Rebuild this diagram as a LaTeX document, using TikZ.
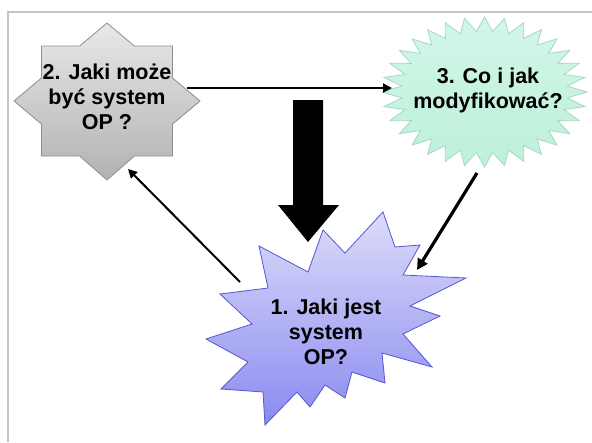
\documentclass[tikz,border=0pt]{standalone}
\usepackage{fontspec}
\setmainfont{Liberation Sans}
\usetikzlibrary{arrows.meta}
\definecolor{frameg}{HTML}{C4C4C4}
\definecolor{graytop}{HTML}{E8E8E8}
\definecolor{graybot}{HTML}{B2B2B2}
\definecolor{grayln}{HTML}{8E8E8E}
\definecolor{minttop}{HTML}{D2F6E8}
\definecolor{mintbot}{HTML}{BDF0DA}
\definecolor{mintln}{HTML}{A6D8C4}
\definecolor{bluetop}{HTML}{DCDCFA}
\definecolor{bluebot}{HTML}{8A8AF0}
\definecolor{blueln}{HTML}{5656D2}
\tikzset{
  lbl/.style={align=center, inner sep=0pt, font=\fontsize{21.5}{25}\selectfont\bfseries, text=black},
  conn/.style={draw=black, -{Triangle[length=9pt,width=9pt]}},
}
\begin{document}
\begin{tikzpicture}[x=1pt,y=-1pt]
\useasboundingbox (0,0) rectangle (592,442);
\fill[white] (0,0) rectangle (592,442);
% slide frame
\draw[frameg, line width=1.2pt] (8,442) -- (8,12) -- (592,12);
% star 2 (grey, 8 points)
\draw[grayln, line width=0.8pt, top color=graytop, bottom color=graybot]
  (107,23) -- (134.4,46) -- (172.5,46) -- (172.5,77.9) -- (200,101) -- (172.5,124.1)
  -- (172.5,156) -- (134.4,156) -- (107,180) -- (79.6,156) -- (41.5,156)
  -- (41.5,124.1) -- (14,101) -- (41.5,77.9) -- (41.5,46) -- (79.6,46) -- cycle;
% star 3 (mint, 32 points)
\draw[mintln, line width=0.8pt, top color=minttop, bottom color=mintbot]
  plot[samples at={0,...,63}]
  ({484.5+102.5*(1-0.19*mod(\x,2))*cos(90+\x*5.625)},
   {92-75*(1-0.19*mod(\x,2))*sin(90+\x*5.625)}) -- cycle;
% star 1 (blue explosion)
\draw[blueln, line width=0.8pt, top color=bluetop, bottom color=bluebot]
  (323,230) -- (345,253) -- (383,212) -- (395,247) -- (420,245) -- (403,275)
  -- (466,278) -- (410,306) -- (440,316) -- (403,334) -- (432,367) -- (382,353)
  -- (385,383) -- (352,372) -- (345,398) -- (325,385) -- (310,407) -- (297,392)
  -- (265,425) -- (263,392) -- (221,389) -- (248,362) -- (206,339) -- (252,324)
  -- (220,294) -- (268,288) -- (259,246) -- (308,272) -- cycle;
% labels
\node[lbl] (s2) at (107,97) {2. Jaki może\\być system\\OP ?};
\node[lbl] (s3) at (488,90.5) {3. Co i jak\\modyfikować?};
\node[lbl] (s1) at (326,332) {1. Jaki jest\\system\\OP?};
% connector end points
\coordinate (a1s) at (187,88);
\coordinate (a1e) at (392,88);
\coordinate (a2s) at (477,173);
\coordinate (a2e) at (417,270);
\coordinate (a3s) at (240,282);
\coordinate (a3e) at (128,169);
\draw[conn, line width=2pt] (a1s) -- (a1e);
\draw[conn, line width=3.2pt, -{Triangle[length=11pt,width=11pt]}] (a2s) -- (a2e);
\draw[conn, line width=2pt] (a3s) -- (a3e);
% big down arrow
\coordinate (bigtop) at (308,100);
\coordinate (bigtip) at (308,242);
\fill[black] (293,100) -- (323,100) -- (323,205) -- (339,205) -- (bigtip)
  -- (278,205) -- (293,205) -- cycle;
\end{tikzpicture}
\end{document}
